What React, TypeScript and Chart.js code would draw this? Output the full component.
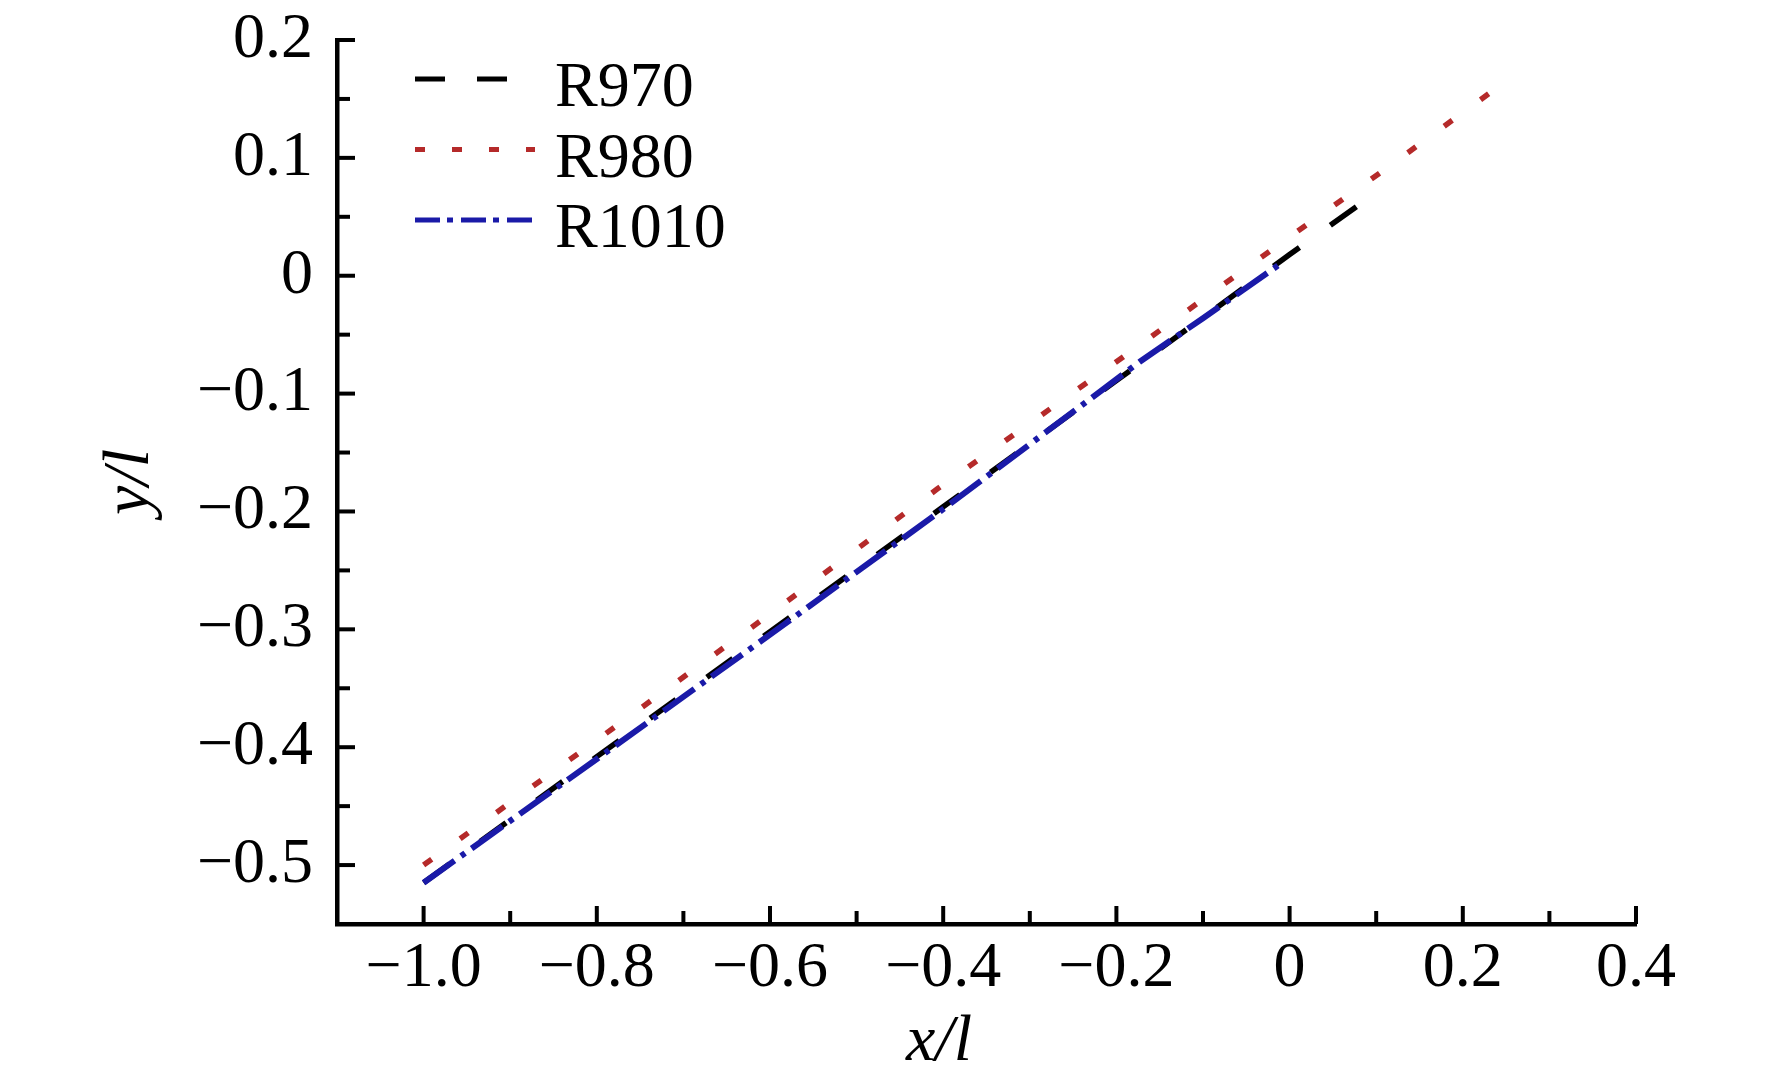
import { useEffect, useRef } from "react"
import { Chart, registerables } from "chart.js"

Chart.register(...registerables)

// values (x/l, y/l)
const r970X = [-1.0, -0.8, -0.6, -0.4, -0.2, 0.0, 0.095]
const r970Y = [-0.515, -0.408, -0.302, -0.196, -0.089, 0.018, 0.068]
const r980X = [-1.0, -0.8, -0.6, -0.407, -0.2, 0.0, 0.106, 0.231]
const r980Y = [-0.5, -0.394, -0.287, -0.181, -0.073, 0.033, 0.088, 0.155]
const r1010X = [-1.0, -0.8, -0.584, -0.4, -0.173, -0.1, -0.007]
const r1010Y = [-0.515, -0.41, -0.296, -0.198, -0.073, -0.036, 0.012]

const seriesLabels = ["R970", "R980", "R1010"]

const xTickValues = [-1.0, -0.8, -0.6, -0.4, -0.2, 0, 0.2, 0.4]
const xTickLabels = ["−1.0", "−0.8", "−0.6", "−0.4", "−0.2", "0", "0.2", "0.4"]
const xMinorTicks = [-0.9, -0.7, -0.5, -0.3, -0.1, 0.1, 0.3]
const yTickValues = [0.2, 0.1, 0, -0.1, -0.2, -0.3, -0.4, -0.5]
const yTickLabels = ["0.2", "0.1", "0", "−0.1", "−0.2", "−0.3", "−0.4", "−0.5"]
const yMinorTicks = [0.15, 0.05, -0.05, -0.15, -0.25, -0.35, -0.45]

const SERIF = "'Liberation Serif', 'Times New Roman', serif"
const colors = ["#000000", "#b52a2a", "#1a1aa8"]
const legendDash = [[30, 32], [10, 27], [25, 7, 6, 8]]

const toPoints = (xs: number[], ys: number[]) => xs.map((x, i) => ({ x, y: ys[i] }))

// inward tick marks, axis titles and the legend box
const decorPlugin = {
  id: "decor",
  afterDraw(chart: any) {
    const { ctx, chartArea, scales } = chart
    const xs = scales.x
    const ys = scales.y
    ctx.save()
    ctx.strokeStyle = "#000"
    ctx.lineWidth = 4
    ctx.setLineDash([])
    const tick = (x1: number, y1: number, x2: number, y2: number) => {
      ctx.beginPath()
      ctx.moveTo(x1, y1)
      ctx.lineTo(x2, y2)
      ctx.stroke()
    }
    xTickValues.forEach((v) => {
      const px = xs.getPixelForValue(v)
      tick(px, chartArea.bottom, px, chartArea.bottom - 18)
    })
    xMinorTicks.forEach((v) => {
      const px = xs.getPixelForValue(v)
      tick(px, chartArea.bottom, px, chartArea.bottom - 13)
    })
    yTickValues.forEach((v) => {
      const py = ys.getPixelForValue(v)
      tick(chartArea.left, py, chartArea.left + 18, py)
    })
    yMinorTicks.forEach((v) => {
      const py = ys.getPixelForValue(v)
      tick(chartArea.left, py, chartArea.left + 13, py)
    })

    // axis titles
    ctx.fillStyle = "#000"
    ctx.font = `italic 66px ${SERIF}`
    ctx.textAlign = "center"
    ctx.textBaseline = "middle"
    ctx.fillText("x/l", 939, 1043)
    ctx.save()
    ctx.translate(131, (chartArea.top + chartArea.bottom) / 2)
    ctx.rotate(-Math.PI / 2)
    ctx.fillText("y/l", 0, 0)
    ctx.restore()

    // legend
    ctx.font = `64px ${SERIF}`
    ctx.textAlign = "left"
    ctx.textBaseline = "alphabetic"
    chart.data.datasets.forEach((ds: any, i: number) => {
      const ly = chartArea.top + 39 + i * 70.5
      ctx.strokeStyle = ds.borderColor
      ctx.lineWidth = 5
      ctx.lineCap = "butt"
      ctx.setLineDash(legendDash[i])
      ctx.beginPath()
      ctx.moveTo(chartArea.left + 78, ly)
      ctx.lineTo(chartArea.left + 198, ly)
      ctx.stroke()
      ctx.setLineDash([])
      ctx.fillStyle = "#000"
      ctx.fillText(ds.label, chartArea.left + 218, ly + 27)
    })
    ctx.restore()
  },
}

export default function App() {
  const chartRef = useRef<HTMLCanvasElement>(null)
  const chartInstance = useRef<Chart | null>(null)

  useEffect(() => {
    if (!chartRef.current) return
    if (chartInstance.current) chartInstance.current.destroy()
    const ctx = chartRef.current.getContext("2d")
    if (!ctx) return

    chartInstance.current = new Chart(ctx, {
      type: "line",
      data: {
        datasets: [
          {
            label: seriesLabels[0],
            data: toPoints(r970X, r970Y),
            borderColor: colors[0],
            borderWidth: 5.5,
            borderDash: [32, 38],
            order: 1,
          },
          {
            label: seriesLabels[1],
            data: toPoints(r980X, r980Y),
            borderColor: colors[1],
            borderWidth: 5.5,
            borderDash: [10, 35],
            order: 2,
          },
          {
            label: seriesLabels[2],
            data: toPoints(r1010X, r1010Y),
            borderColor: colors[2],
            borderWidth: 6,
            borderDash: [38, 8, 5, 8],
            order: 0,
          },
        ],
      },
      options: {
        responsive: true,
        maintainAspectRatio: false,
        animation: false,
        events: [],
        elements: {
          point: { radius: 0 },
          line: { tension: 0, fill: false, borderCapStyle: "butt" },
        },
        layout: { padding: { left: 0, right: 136, top: 40, bottom: 0 } },
        plugins: {
          legend: { display: false },
          tooltip: { enabled: false },
        },
        scales: {
          x: {
            type: "linear",
            position: "bottom",
            min: -1.1,
            max: 0.4,
            afterBuildTicks: (scale: any) => {
              scale.ticks = xTickValues.map((value) => ({ value }))
            },
            afterFit: (scale: any) => {
              scale.height = 164
              scale.paddingLeft = 0
              scale.paddingRight = 0
            },
            grid: { drawOnChartArea: false, drawTicks: false },
            border: { display: true, color: "#000", width: 4.5 },
            ticks: {
              autoSkip: false,
              maxRotation: 0,
              padding: 7,
              color: "#000",
              font: { family: SERIF, size: 64 },
              callback: (_v: any, i: number) => xTickLabels[i],
            },
          },
          y: {
            type: "linear",
            position: "left",
            min: -0.55,
            max: 0.2,
            afterBuildTicks: (scale: any) => {
              scale.ticks = yTickValues.map((value) => ({ value }))
            },
            afterFit: (scale: any) => {
              scale.width = 337
              scale.paddingTop = 0
              scale.paddingBottom = 0
            },
            grid: { drawOnChartArea: false, drawTicks: false },
            border: { display: true, color: "#000", width: 4.5 },
            ticks: {
              autoSkip: false,
              padding: 24,
              color: "#000",
              font: { family: SERIF, size: 64 },
              callback: (_v: any, i: number) => yTickLabels[i],
            },
          },
        },
      },
      plugins: [decorPlugin],
    })

    return () => {
      if (chartInstance.current) {
        chartInstance.current.destroy()
        chartInstance.current = null
      }
    }
  }, [])

  return (
    <div style={{ position: "fixed", left: 0, top: 0, width: 1772, height: 1088, background: "#fff" }}>
      <canvas ref={chartRef} />
    </div>
  )
}
